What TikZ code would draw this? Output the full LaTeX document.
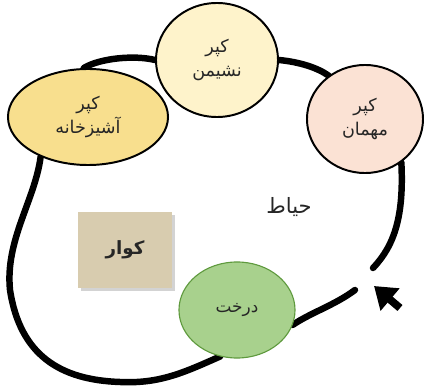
\documentclass[tikz,border=0pt]{standalone}
\usepackage{fontspec}
\usepackage{tikz}
\usetikzlibrary{arrows.meta,shapes.geometric,backgrounds,shadows}
\newfontfamily\farsi[Script=Arabic]{DejaVu Sans}
\TeXXeTstate=1
\definecolor{ashpazfill}{HTML}{F8DF8E}
\definecolor{nashimanfill}{HTML}{FEF3CB}
\definecolor{mehmanfill}{HTML}{FBE2D4}
\definecolor{derakhtfill}{HTML}{A8D18D}
\definecolor{derakhtline}{HTML}{5F9A3E}
\definecolor{kavarfill}{HTML}{D8CCAF}
\definecolor{labeltext}{HTML}{262626}

\begin{document}
\begin{tikzpicture}[x=0.025cm, y=-0.025cm,
    room/.style={ellipse, draw=black, line width=1.4pt, inner sep=0pt,
        text=labeltext, font=\farsi\fontsize{12.5}{17}\selectfont, align=center},
    wall/.style={line width=4.6pt, black, line cap=round},
    entryarrow/.style={-{Triangle[length=15pt,width=20pt]}, line width=5.5pt, black}]
    \useasboundingbox (0,0) rectangle (424,387);

    % Rooms (kapar)
    \node[room, fill=ashpazfill, minimum width=4.0cm, minimum height=2.4cm] (ashpaz) at (88,117)
        {\beginR کپر\endR\\\beginR آشیزخانه\endR};
    \node[room, fill=nashimanfill, minimum width=3.05cm, minimum height=2.85cm] (nashiman) at (217,60)
        {\beginR کپر\endR\\\beginR نشیمن\endR};
    \node[room, fill=mehmanfill, minimum width=2.9cm, minimum height=2.7cm] (mehman) at (365,119)
        {\beginR کپر\endR\\\beginR مهمان\endR};

    % Tree
    \node[room, fill=derakhtfill, draw=derakhtline, line width=0.8pt,
        minimum width=2.9cm, minimum height=2.4cm, font=\farsi\fontsize{12}{14}\selectfont] (derakht) at (237,310)
        {\beginR درخت\endR};

    % Kavar
    \node[rectangle, fill=kavarfill, drop shadow={opacity=0.35}, minimum width=2.33cm, minimum height=1.9cm,
        text=labeltext, font=\farsi\bfseries\fontsize{13}{15}\selectfont] (kavar) at (125,250)
        {\beginR کوار\endR};

    % Yard
    \node[text=labeltext, font=\farsi\fontsize{15}{17}\selectfont] (hayat) at (289,207) {\beginR حیاط\endR};

    % Entrance
    \coordinate (gapA) at (373,268);
    \coordinate (gapB) at (355,290);
    \coordinate (entry) at (374,286);
    \coordinate (arrowtail) at (400,308);
    \draw[entryarrow] (arrowtail) -- (entry);

    % Wall, behind the rooms
    \begin{pgfonlayer}{background}
    \draw[wall] (ashpaz.95) .. controls (100,58) and (135,55) .. (nashiman.west);
    \draw[wall] (nashiman.east) .. controls (300,62) and (318,68) .. (mehman.130);
    \draw[wall] (mehman.-50) .. controls (404,215) and (395,245) .. (gapA);
    \draw[wall] (gapB) .. controls (335,305) and (310,313) .. (derakht.-15);
    \draw[wall] (derakht.250) .. controls (185,372) and (160,384) .. (120,382)
        .. controls (60,380) and (20,355) .. (10,290)
        .. controls (5,240) and (35,200) .. (ashpaz.220);
    \end{pgfonlayer}
\end{tikzpicture}
\end{document}
